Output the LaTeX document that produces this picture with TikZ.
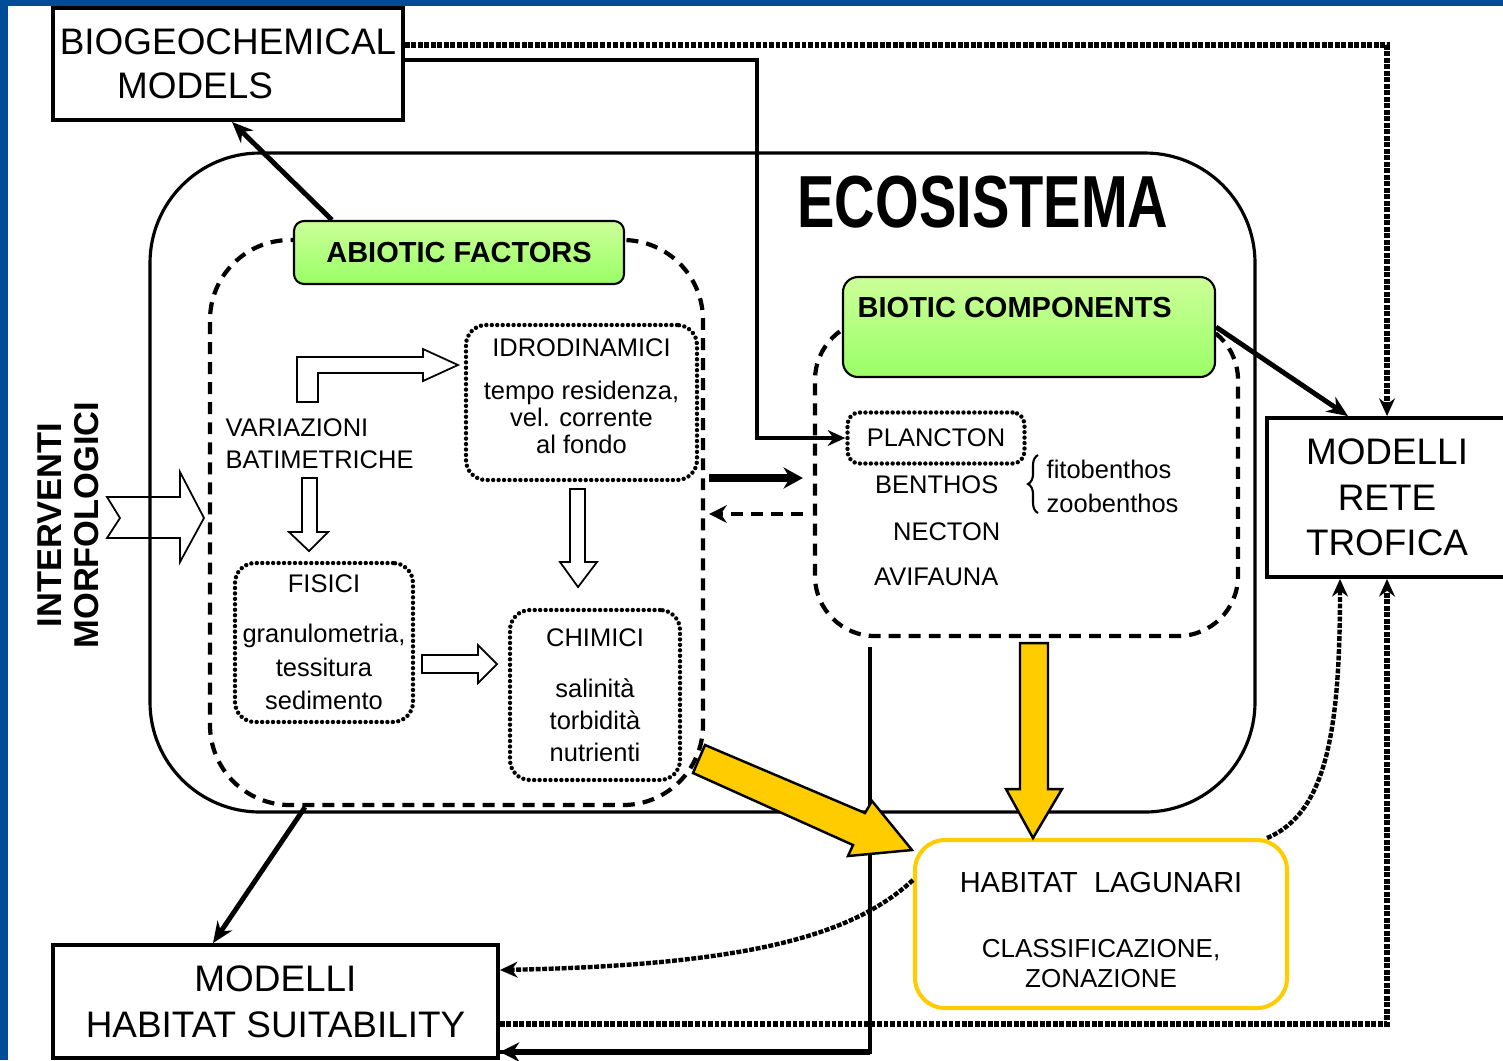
\documentclass[tikz,border=0pt]{standalone}
\usepackage{fontspec}
\setmainfont{Liberation Sans}
\usetikzlibrary{arrows.meta}
\usetikzlibrary{positioning}
\usetikzlibrary{decorations.pathreplacing}

\definecolor{frameblue}{RGB}{0,76,153}
\definecolor{headtop}{RGB}{204,255,153}
\definecolor{headbot}{RGB}{153,255,102}
\definecolor{lagoon}{RGB}{255,204,0}

\tikzstyle{modelbox}  = [draw=black, line width=1.1pt, align=center, inner sep=0pt, font=\fontsize{10.5}{13}\selectfont]
\tikzstyle{groupbox}  = [draw=black, line width=1.2pt, dash pattern=on 3.4pt off 2.3pt, inner sep=0pt]
\tikzstyle{factorbox} = [draw=black, line width=1.25pt, line cap=round, dash pattern=on 0pt off 1.55pt, rounded corners=0.2cm, align=center, inner sep=0pt, font=\fontsize{7.25}{7.7}\selectfont]
\tikzstyle{headbox}   = [draw=black, line width=0.6pt, top color=headtop, bottom color=headbot, inner sep=0pt]
\tikzstyle{headtext}  = [inner sep=0pt, font=\fontsize{8.25}{9.9}\selectfont\bfseries]
\tikzstyle{plaintext} = [inner sep=0pt, font=\fontsize{7.25}{9.1}\selectfont]
\tikzstyle{arrow}     = [line width=1.4pt, -{Stealth[length=6pt,width=5pt]}]
\tikzstyle{thinarrow} = [line width=1pt, -{Stealth[length=5pt,width=4.5pt]}]
\tikzstyle{fatarrow}  = [line width=2.4pt, -{Stealth[length=5.5pt,width=6pt]}]
\tikzstyle{dasharrow} = [line width=1.1pt, dash pattern=on 3.4pt off 2.3pt, -{Stealth[length=5pt,width=5pt]}]
\tikzstyle{dotline}   = [line width=1.5pt, dash pattern=on 1.4pt off 0.45pt, -{Stealth[length=5pt,width=4.5pt]}]
\tikzstyle{hollow}    = [draw=black, line width=0.5pt, fill=white]
\tikzstyle{bigarrow}  = [draw=black, line width=0.7pt, fill=lagoon]

\begin{document}
\begin{tikzpicture}[x=0.1mm, y=-0.1mm]
  \clip (0,0) rectangle (1503,1060);
  \fill[white] (0,0) rectangle (1503,1060);
  % blue frame
  \fill[frameblue] (0,0) rectangle (8,1060);
  \fill[frameblue] (0,0) rectangle (1503,6);

  % ecosystem
  \node[draw=black, line width=0.9pt, rounded corners=1.1cm, minimum width=11.05cm, minimum height=6.59cm] (eco) at (702.5,482.5) {};
  \node[inner sep=0pt, font=\fontsize{21}{21}\selectfont\bfseries] (ecotitle) at (983,202) {\scalebox{0.76}[1]{ECOSISTEMA}};

  % models
  \node[modelbox, minimum width=3.5cm, minimum height=1.12cm, font=\fontsize{10.5}{12.5}\selectfont] (bio) at (228,64) {BIOGEOCHEMICAL\\\hspace*{-0.66cm}MODELS};
  \node[modelbox, minimum width=2.4cm, minimum height=1.59cm] (rete) at (1387,497.5) {MODELLI\\RETE\\TROFICA};
  \node[modelbox, minimum width=4.45cm, minimum height=1.13cm] (habsuit) at (275.5,1001.5) {MODELLI\\HABITAT SUITABILITY};
  \node[draw=lagoon, line width=1.15pt, rounded corners=0.3cm, minimum width=3.72cm, minimum height=1.68cm, align=center, inner sep=0pt, font=\fontsize{7.4}{8.5}\selectfont] (lagunari) at (1101,924) {{\fontsize{8.25}{9.9}\selectfont\rule{0pt}{9.4pt}HABITAT\ \ LAGUNARI}\\[10pt]CLASSIFICAZIONE,\\ZONAZIONE};

  % abiotic factors
  \node[groupbox, rounded corners=0.8cm, minimum width=4.93cm, minimum height=5.65cm] (abio) at (456.5,522.5) {};
  \node[headbox, headtext, rounded corners=0.1cm, minimum width=3.3cm, minimum height=0.63cm] (abiohead) at (459,252.5) {ABIOTIC FACTORS};
  \node[factorbox, minimum width=2.31cm, minimum height=1.55cm] (idro) at (581.5,402.5) {IDRODINAMICI\\[4.5pt]tempo residenza,\\vel. corrente\\al fondo\rule[-3.4pt]{0pt}{3.4pt}};
  \node[factorbox, minimum width=1.78cm, minimum height=1.59cm, font=\fontsize{7.25}{9.5}\selectfont] (fis) at (324,642.5) {FISICI\\[4.7pt]granulometria,\\tessitura\\sedimento};
  \node[factorbox, minimum width=1.7cm, minimum height=1.7cm, font=\fontsize{7.25}{9.1}\selectfont] (chim) at (595,695) {CHIMICI\\[5.4pt]salinità\\torbidità\\nutrienti};
  \node[plaintext, anchor=west, align=left] (varia) at (225,444) {VARIAZIONI\\BATIMETRICHE};

  % biotic components
  \node[groupbox, rounded corners=0.6cm, minimum width=4.23cm, minimum height=3.16cm] (biotic) at (1026.5,478) {};
  \node[headbox, rounded corners=0.15cm, minimum width=3.72cm, minimum height=1.0cm] (biohead) at (1029,327) {};
  \node[headtext, anchor=west] (biotitle) at (857,307) {BIOTIC COMPONENTS};
  \node[factorbox, rounded corners=0.12cm, minimum width=1.77cm, minimum height=0.51cm] (plank) at (936,438) {PLANCTON};
  \node[plaintext, anchor=east] (benthos) at (999,485) {BENTHOS};
  \node[plaintext, anchor=east] (necton) at (1001,532) {NECTON};
  \node[plaintext, anchor=east] (avifauna) at (999,577) {AVIFAUNA};
  \node[plaintext, anchor=west] (fito) at (1046,469) {fitobenthos};
  \node[plaintext, anchor=west] (zoo) at (1046,503) {zoobenthos};
  \draw[line width=0.6pt, decorate, decoration={brace, amplitude=0.1cm}] (1038,513) -- (1038,455);

  % interventions
  \node[rotate=90, align=center, inner sep=0pt, font=\fontsize{9.8}{10.5}\selectfont\bfseries] (interventi) at (68,525) {INTERVENTI\\MORFOLOGICI};
  \draw[draw=black, line width=0.5pt] (107,497) -- (180,497) -- (180,472) -- (204,518) -- (180,562) -- (180,538) -- (107,538) -- (120,518) -- cycle;

  % hollow arrows
  \draw[hollow] (297,402) -- (297,357) -- (423,357) -- (423,349) -- (458,365) -- (423,381) -- (423,373) -- (318,373) -- (318,402) -- cycle;
  \draw[hollow] (302,478) -- (317,478) -- (317,532) -- (328,532) -- (309,551) -- (289,532) -- (302,532) -- cycle;
  \draw[hollow] (570,489) -- (585,489) -- (585,562) -- (597,562) -- (578,587) -- (560,562) -- (570,562) -- cycle;
  \draw[hollow] (422,655) -- (478,655) -- (478,645) -- (497,664) -- (478,683) -- (478,673) -- (422,673) -- cycle;

  % connectors
  \draw[arrow] ([xshift=0.39cm]abiohead.north west) -- ([xshift=0.04cm]bio.south);
  \draw[thinarrow] ([yshift=0.04cm]bio.east) -- ++(352,0) |- (plank.west);
  \draw[dotline] ([yshift=0.19cm]bio.east) -| (rete.north);
  \draw[arrow] (biohead.east) -- ([xshift=-0.39cm]rete.north);
  \draw[fatarrow, shorten <=0.04cm, shorten >=0.1cm] (abio.east |- biotic.west) -- (biotic.west);
  \coordinate (back) at ([yshift=-0.36cm]biotic.west);
  \draw[dasharrow, shorten <=0.1cm, shorten >=0.04cm] (back) -- (back -| abio.east);
  \draw[arrow] ([xshift=-1.515cm]abio.south) -- ([xshift=-0.625cm]habsuit.north);
  \draw[line width=1.1pt] ([xshift=-1.565cm, yshift=-0.09cm]biotic.south) |- ([yshift=-0.505cm]habsuit.east);
  \draw[line width=1.6pt, -{Stealth[length=5.5pt,width=5.5pt]}] ([xshift=-1.565cm]biotic.south |- habsuit.east) ++(0,50.5) -- ([yshift=-0.505cm]habsuit.east);
  \draw[dotline] ([yshift=-0.225cm]habsuit.east) -| (rete.south);
  \draw[dotline, line width=1.25pt] ([xshift=-0.22cm]lagunari.north east) .. controls +(60,-25) and +(0,150) .. ([xshift=-0.47cm]rete.south);
  \draw[dotline, line width=1.25pt] ([yshift=0.44cm]lagunari.west) .. controls +(-60,55) and +(250,-5) .. ([yshift=0.315cm]habsuit.east);

  % yellow arrows
  \draw[bigarrow] (1020,643) -- (1048,643) -- (1048,789) -- (1062,789) -- (1033,838) -- (1006,789) -- (1020,789) -- cycle;
  \draw[bigarrow] (705,745) -- (865,813) -- (872,801) -- (912,850) -- (848,856) -- (853,845) -- (693,773) -- cycle;
\end{tikzpicture}
\end{document}
